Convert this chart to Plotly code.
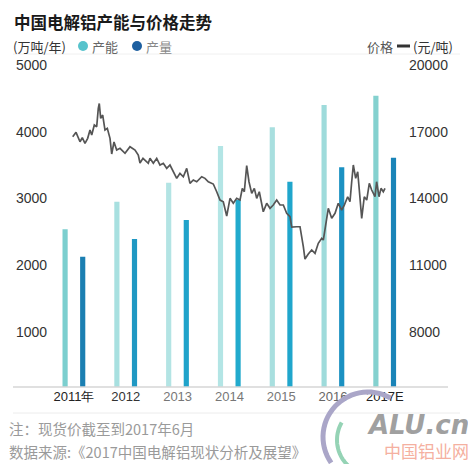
import math
import plotly.graph_objects as go

# ---------------- data ----------------
years = ["2011年", "2012", "2013", "2014", "2015", "2016", "2017E"]
capacity = [2535, 2949, 3234, 3785, 4065, 4400, 4539]      # 产能 (万吨/年)
production = [2124, 2390, 2675, 2975, 3249, 3465, 3609]    # 产量 (万吨/年)

# spot price (元/吨), position in years after 2011 (0 = 2011, 6 = 2017E)
price_x = [-0.025, 0.039, 0.116, 0.160, 0.212, 0.264, 0.309, 0.342, 0.392, 0.438,
           0.469, 0.488, 0.515, 0.554, 0.598, 0.643, 0.695, 0.728, 0.772, 0.824,
           0.888, 0.985, 1.081, 1.178, 1.241, 1.274, 1.332, 1.371, 1.434, 1.467,
           1.531, 1.597, 1.660, 1.724, 1.790, 1.853, 1.917, 1.983, 2.046, 2.110,
           2.176, 2.239, 2.303, 2.369, 2.465, 2.529, 2.593, 2.689, 2.755, 2.819,
           2.882, 2.948, 3.012, 3.075, 3.141, 3.205, 3.249, 3.288, 3.334, 3.378,
           3.431, 3.481, 3.527, 3.577, 3.654, 3.720, 3.784, 3.847, 3.913, 3.977,
           4.041, 4.106, 4.170, 4.203, 4.299, 4.363, 4.427, 4.459, 4.523, 4.589,
           4.653, 4.716, 4.782, 4.813, 4.909, 4.975, 5.039, 5.102, 5.168, 5.218,
           5.284, 5.328, 5.361, 5.392, 5.438, 5.477, 5.508, 5.554, 5.604, 5.651,
           5.701, 5.747, 5.811, 5.842, 5.888, 5.927, 5.971, 6.004]
price = [16772, 16970, 16547, 16727, 16475, 16700, 17074, 16849, 17299, 17222,
         18050, 18266, 17600, 17749, 17074, 17150, 16700, 15994, 16534, 16174,
         16250, 16025, 16322, 16174, 15949, 15589, 15800, 15724, 15575, 15800,
         15575, 15800, 15499, 15575, 15350, 15499, 15197, 14900, 15125, 14972,
         15350, 14675, 14824, 14747, 14972, 14900, 14747, 14644, 14297, 13924,
         13847, 13204, 14000, 13775, 14000, 13924, 14450, 14297, 15476, 14747,
         14225, 14450, 14000, 14297, 13397, 13775, 13550, 13699, 13924, 13699,
         13699, 13325, 13172, 12709, 12722, 12722, 11822, 11269, 11494, 11674,
         11525, 11975, 12200, 12124, 13550, 13100, 13325, 13775, 13474, 13699,
         14072, 13847, 14747, 15499, 14900, 15197, 14374, 13100, 14072, 13924,
         14675, 14374, 14072, 14747, 14072, 14450, 14297, 14450]

left_ticks = [1000, 2000, 3000, 4000, 5000]
right_ticks = [8000, 11000, 14000, 17000, 20000]

title = "中国电解铝产能与价格走势"
note1 = "注：现货价截至到2017年6月"
note2 = "数据来源:《2017中国电解铝现状分析及展望》"

# ---------------- styling ----------------
OFF = 8                                 # page body margin
W, H = 476 - OFF, 464 - OFF
L, R, T, B = 13, 408, 55, 387          # plot area in reference pixels
CJK = "Noto Sans CJK SC"
NUM = "Liberation Sans, Arial, sans-serif"

cap_colors = ["#7ccfcf", "#a8e0e0", "#b3e4e4", "#b3e5e5", "#a8dfdf", "#9edbdb", "#84d1cf"]
prod_colors = ["#1b7fb2", "#1f98c3", "#20a3ca", "#22aacd", "#20a6cc", "#1b91c2", "#1a84b8"]
tick_colors = ["#222", "#333", "#777", "#777", "#777", "#666", "#222"]


def px(x):
    return (x - L) / (R - L)


def py(y):
    return (B - y) / (B - T)


idx = list(range(len(years)))
fig = go.Figure()
fig.add_trace(go.Bar(x=idx, y=capacity, width=0.1, offset=-0.222,
                     marker=dict(color=cap_colors, line=dict(width=0)),
                     name="产能", yaxis="y"))
fig.add_trace(go.Bar(x=idx, y=production, width=0.1, offset=0.118,
                     marker=dict(color=prod_colors, line=dict(width=0)),
                     name="产量", yaxis="y"))
fig.add_trace(go.Scatter(x=price_x, y=price, mode="lines",
                         line=dict(color="#555555", width=1.7),
                         name="价格", yaxis="y2"))

ticktext = [f"<span style='color:{c}'>{t}</span>" for t, c in zip(years, tick_colors)]

shapes = [
    dict(type="line", xref="paper", yref="paper", x0=px(13), x1=px(448), y0=0, y1=0,
         line=dict(color="#d6d6d6", width=1.5)),
    dict(type="line", xref="paper", yref="paper", x0=px(13), x1=px(460), y0=py(54), y1=py(54),
         line=dict(color="#f0f0f0", width=1)),
    dict(type="line", xref="paper", yref="paper", x0=px(13), x1=px(460), y0=py(413), y1=py(413),
         line=dict(color="#ececec", width=1)),
    dict(type="circle", xref="paper", yref="paper", x0=px(78), x1=px(88), y0=py(41), y1=py(51),
         fillcolor="#57c3cc", line=dict(width=0)),
    dict(type="circle", xref="paper", yref="paper", x0=px(132), x1=px(142), y0=py(41), y1=py(51),
         fillcolor="#1d5fa0", line=dict(width=0)),
    dict(type="line", xref="paper", yref="paper", x0=px(397), x1=px(410), y0=py(46), y1=py(46),
         line=dict(color="#333", width=3)),
]


def arc(cx, cy, r, a0, a1, n=30):
    pts = []
    for k in range(n + 1):
        a = math.radians(a0 + (a1 - a0) * k / n)
        pts.append((px(cx + r * math.cos(a)), py(cy - r * math.sin(a))))
    return "M " + " L ".join(f"{x:.4f},{y:.4f}" for x, y in pts)


shapes.append(dict(type="path", xref="paper", yref="paper", path=arc(368, 437, 45, 60, 215),
                   line=dict(color="#aaa6c8", width=5)))
shapes.append(dict(type="path", xref="paper", yref="paper", path=arc(372, 440, 35, 150, 240),
                   line=dict(color="#95d3b5", width=4)))


def ann(text, x, y, size, color, anchor="left", family=CJK, yanchor="middle"):
    return dict(text=text, x=px(x), y=py(y), xref="paper", yref="paper",
                xanchor=anchor, yanchor=yanchor, showarrow=False, borderpad=0,
                font=dict(family=family, size=size, color=color))


annotations = [
    ann(f"<b>{title}</b>", 13, 8.5, 16.5, "#1a1a1a", yanchor="top"),
    ann("(万吨/年)", 12, 46, 13, "#333"),
    ann("产能", 91, 46, 13, "#666"),
    ann("产量", 145, 46, 13, "#888"),
    ann("价格", 394, 46, 13, "#555", "right"),
    ann("(元/吨)", 454, 46, 13, "#333", "right"),
    ann(note1, 8, 428, 14.5, "#9a9a9a"),
    ann(note2, 8, 451, 14.5, "#9a9a9a"),
    ann("<b><i>ALU.cn</i></b>", 470, 425, 26, "#a0a0a0", "right", "DejaVu Sans"),
    ann("中国铝业网", 470, 450, 17, "#f5b0a0", "right"),
]

fig.update_layout(
    width=W, height=H,
    margin=dict(l=L - OFF, r=W - (R - OFF), t=T - OFF, b=H - (B - OFF), pad=0),
    paper_bgcolor="white", plot_bgcolor="white",
    showlegend=False, barmode="overlay",
    xaxis=dict(range=[(L - 74) / 51.8, (R - 74) / 51.8], tickvals=idx, ticktext=ticktext,
               showgrid=False, zeroline=False, showline=False, ticks="",
               tickfont=dict(family=NUM, size=13), fixedrange=True),
    yaxis=dict(range=[170, 5150], tickvals=left_ticks, ticklabelposition="inside",
               tickformat="d",
               showgrid=False, zeroline=False, showline=False, ticks="",
               tickfont=dict(family=NUM, size=14, color="#333")),
    yaxis2=dict(range=[5510, 20450], tickvals=right_ticks, overlaying="y", side="right",
                tickformat="d",
                showgrid=False, zeroline=False, showline=False, ticks="",
                tickfont=dict(family=NUM, size=14, color="#333")),
    shapes=shapes, annotations=annotations,
)

fig.write_html("out.html")
